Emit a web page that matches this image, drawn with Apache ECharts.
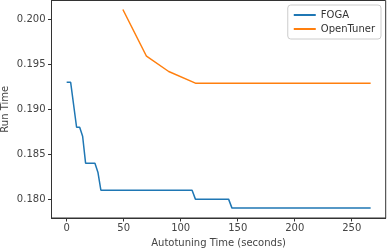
<!DOCTYPE html>
<html><head><meta charset="utf-8">
<script src="https://cdn.jsdelivr.net/npm/echarts@6/dist/echarts.min.js"></script>
<style>html,body{margin:0;padding:0;background:#fff}#c{width:387px;height:250px}</style>
</head><body><div id="c"></div>
<script>
var fogaX = [0, 3.5, 8.7, 11.4, 14, 16.6, 24.8, 27.4, 30, 110, 112.9, 142, 145, 266.6];
var fogaY = [0.193, 0.193, 0.188, 0.188, 0.187, 0.184, 0.184, 0.183, 0.181, 0.181, 0.180, 0.180, 0.179, 0.179];
var openX = [49.3, 70, 89.5, 112.9, 266.6];
var openY = [0.2011, 0.1959, 0.1942, 0.1929, 0.1929];
var xTicks = [0, 50, 100, 150, 200, 250];
var yTicks = [0.180, 0.185, 0.190, 0.195, 0.200];
var seriesNames = ['FOGA', 'OpenTuner'];
function pairs(xs, ys){ return xs.map(function(x,i){return [x, ys[i]];}); }
var chart = echarts.init(document.getElementById('c'), null, {renderer:'canvas'});
var font = 'DejaVu Sans';
var lineCol = '#333';
chart.setOption({
  animation:false,
  grid:{left:51.5, top:0.5, right:1.3, bottom:32, show:true, borderColor:lineCol, borderWidth:1,
        containLabel:false, outerBoundsMode:'none'},
  legend:{
    data:seriesNames, orient:'vertical', right:6, top:5,
    icon:'rect', itemWidth:22, itemHeight:2, itemGap:4,
    padding:[5,6,5,6], borderColor:'#ccc', borderWidth:1, borderRadius:3,
    backgroundColor:'#fff',
    textStyle:{fontFamily:font, fontSize:10, color:'#333'}
  },
  xAxis:{
    type:'value', min:-13.3, max:279.8,
    name:'Autotuning Time (seconds)', nameLocation:'middle', nameGap:20, nameMoveOverlap:false,
    nameTextStyle:{fontFamily:font, fontSize:10, color:'#444'},
    axisLine:{show:true, onZero:false, lineStyle:{color:lineCol, width:1}},
    axisTick:{show:true, length:3.5, lineStyle:{color:lineCol}, customValues:xTicks},
    axisLabel:{color:'#444', fontFamily:font, fontSize:10, margin:5, customValues:xTicks},
    splitLine:{show:false}
  },
  yAxis:{
    type:'value', min:0.1779, max:0.2021,
    name:'Run Time', nameLocation:'middle', nameGap:41, nameRotate:90, nameMoveOverlap:false,
    nameTextStyle:{fontFamily:font, fontSize:10, color:'#444'},
    axisLine:{show:true, onZero:false, lineStyle:{color:lineCol, width:1}},
    axisTick:{show:true, length:3.5, lineStyle:{color:lineCol}, customValues:yTicks},
    axisLabel:{color:'#444', fontFamily:font, fontSize:10, margin:6, customValues:yTicks,
      formatter:function(v){return v.toFixed(3);}},
    splitLine:{show:false}
  },
  series:[
    {name:seriesNames[0], type:'line', data:pairs(fogaX, fogaY), showSymbol:false, symbol:'none',
     lineStyle:{color:'#1f77b4', width:1.5}, itemStyle:{color:'#1f77b4'}},
    {name:seriesNames[1], type:'line', data:pairs(openX, openY), showSymbol:false, symbol:'none',
     lineStyle:{color:'#ff7f0e', width:1.5}, itemStyle:{color:'#ff7f0e'}}
  ]
});
</script></body></html>
